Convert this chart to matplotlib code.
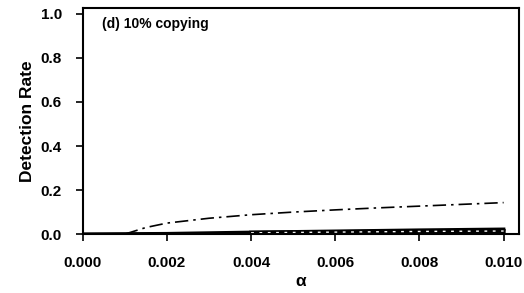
import numpy as np
import matplotlib.pyplot as plt

plt.rcParams['font.family'] = ['Liberation Sans', 'DejaVu Sans']
plt.rcParams['font.weight'] = 'bold'

# curves
alpha_dd = [0.001, 0.0015, 0.002, 0.003, 0.004, 0.005, 0.006, 0.007, 0.008, 0.009, 0.010]
rate_dd = [0.0, 0.03, 0.05, 0.072, 0.088, 0.100, 0.110, 0.119, 0.127, 0.135, 0.143]

alpha_solid = [0.000, 0.002, 0.004, 0.006, 0.008, 0.010]
rate_solid = [0.0, 0.002, 0.008, 0.013, 0.018, 0.022]

alpha_dash = [0.004, 0.006, 0.008, 0.010]
rate_dash = [0.006, 0.009, 0.012, 0.014]

xticks = [0.000, 0.002, 0.004, 0.006, 0.008, 0.010]
yticks = [0.0, 0.2, 0.4, 0.6, 0.8, 1.0]

fig = plt.figure(figsize=(5.24, 2.93), dpi=100)
ax = fig.add_axes([0.158, 0.201, 0.832, 0.772])

ax.plot(alpha_dd, rate_dd, color='black', lw=1.2, ls=(0, (8, 3, 1.5, 3)))
ax.plot(alpha_solid, rate_solid, color='black', lw=2.5)
ax.plot(alpha_dash, rate_dash, color='black', lw=3.0)
ax.plot(alpha_dash, rate_dash, color='white', lw=1.0, ls=(0, (2, 4)))

ax.set_xlim(0, 0.01036)
ax.set_ylim(0, 1.027)
ax.set_xticks(xticks)
ax.set_xticklabels(['%.3f' % v for v in xticks])
ax.set_yticks(yticks)
ax.set_yticklabels(['%.1f' % v for v in yticks])

for s in ax.spines.values():
    s.set_linewidth(1.5)

ax.tick_params(axis='x', direction='out', length=5, width=1.2, pad=11, labelsize=11)
ax.tick_params(axis='y', direction='out', length=5, width=1.2, pad=10, labelsize=11)

ax.set_xlabel('α', fontsize=12.5, fontweight='bold', labelpad=3)
ax.set_ylabel('Detection Rate', fontsize=12.5, fontweight='bold', labelpad=4)

ax.text(0.045, 0.93, '(d) 10% copying', transform=ax.transAxes,
        fontsize=10, fontweight='bold', va='center', ha='left')

fig.savefig('out.png', dpi=100)
